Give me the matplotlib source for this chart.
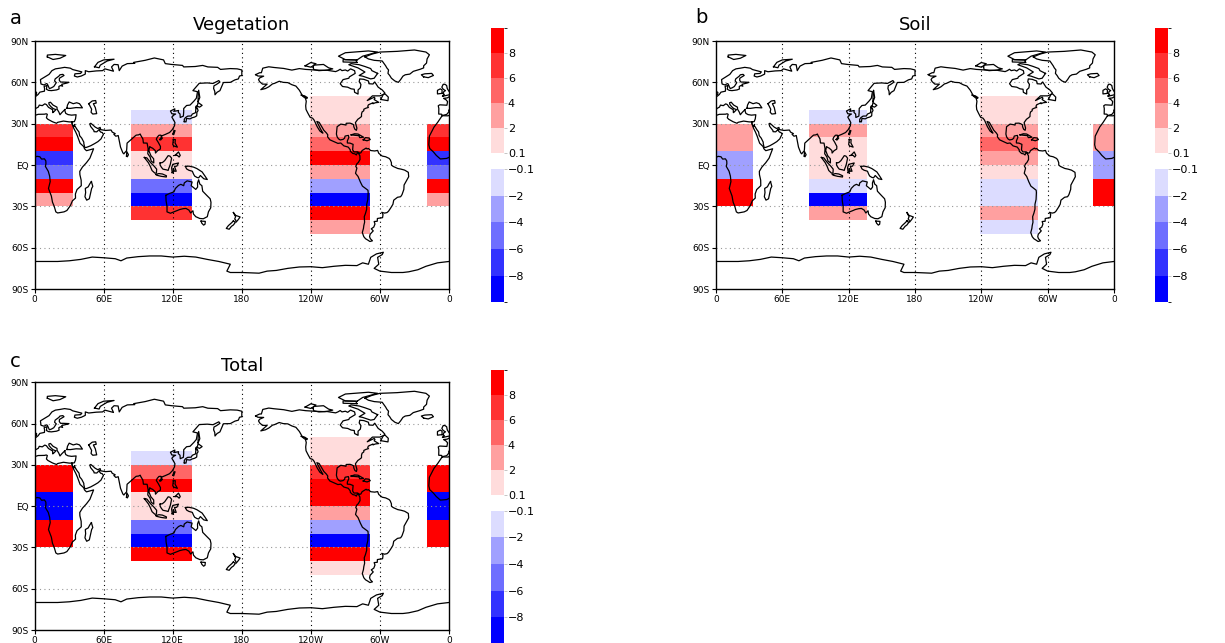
import matplotlib
matplotlib.use("Agg")
import matplotlib.pyplot as plt
import numpy as np
from matplotlib.colors import ListedColormap, BoundaryNorm
from matplotlib.colorbar import ColorbarBase

# ---------------------------------------------------------------------------
# Data: band values per region (10 degree latitude bands, north -> south)
# ---------------------------------------------------------------------------
PANELS = ["Vegetation", "Soil", "Total"]
LETTERS = ["a", "b", "c"]

AFR_LON = (-19.0, 33.5)
ASIA_LON = (84.0, 136.5)
AMER_LON = (-121.0, -68.5)

AFR_LAT = [30, 20, 10, 0, -10, -20, -30]
ASIA_LAT = [40, 30, 20, 10, 0, -10, -20, -30, -40]
AMER_LAT = [50, 40, 30, 20, 10, 0, -10, -20, -30, -40, -50]

veg_afr = [7, 9, -7, -5, 9, 3]
veg_asia = [-1, 3, 7, 1, 1, -5, -9, 7]
veg_amer = [1, 1, 3, 5, 9, 3, -3, -9, 9, 3]

soil_afr = [3, 3, -3, -3, 9, 9]
soil_asia = [-1, 3, 1, 1, 1, -1, -9, 3]
soil_amer = [1, 1, 3, 5, 3, 1, -1, -1, 3, -1]

tot_afr = [9, 9, -9, -9, 9, 9]
tot_asia = [-1, 5, 9, 1, 1, -5, -9, 9]
tot_amer = [1, 1, 7, 9, 9, 3, -3, -9, 9, 1]

LEVELS = [-10, -8, -6, -4, -2, -0.1, 0.1, 2, 4, 6, 8, 10]
COLORS = ["#0000ff", "#3232ff", "#6e6eff", "#a0a0ff", "#dcdcff", "#ffffff",
          "#ffdcdc", "#ffa0a0", "#ff6666", "#ff3232", "#ff0000"]

XTICKS = [0, 60, 120, 180, 240, 300, 360]
XLABELS = ["0", "60E", "120E", "180", "120W", "60W", "0"]
YTICKS = [-90, -60, -30, 0, 30, 60, 90]
YLABELS = ["90S", "60S", "30S", "EQ", "30N", "60N", "90N"]

# ---------------------------------------------------------------------------
# Coarse coastlines (lon, lat), lon in -180..180
# ---------------------------------------------------------------------------
africa = [(-5.9, 35.8), (-9.8, 31), (-13, 27.5), (-17, 21), (-17.5, 14.7), (-16.7, 12),
          (-13.5, 9.5), (-11, 7), (-7.5, 4.4), (-2, 4.8), (2, 6.3), (4.5, 6), (6, 4.3),
          (8.5, 4.5), (9.7, 3), (9.8, 1), (9.3, -1), (11.8, -4.5), (13, -8), (13.5, -12),
          (12, -17), (14.5, -22.5), (15.5, -27), (17, -30), (18.4, -34), (20, -34.8),
          (25.5, -34), (28, -33), (31, -29.5), (32.8, -26), (35.5, -24), (35.4, -21),
          (36.8, -17.8), (40.5, -15), (40.4, -11), (39.3, -7), (39.2, -4.6), (41.5, -1.5),
          (45, 1.7), (48, 5), (51.2, 11.8), (49, 11.3), (45, 10.4), (43.3, 11.8),
          (42.6, 13.4), (39.5, 15.8), (38.5, 18), (37.2, 21), (35.7, 23.9), (34, 26.6),
          (32.5, 29.9), (32.3, 31.3), (30, 31.3), (25, 31.9), (20, 31), (19, 30.3),
          (15.5, 31.4), (11.5, 33.2), (10.2, 34.3), (11, 36.8), (10, 37.2), (8.6, 36.9),
          (3, 36.8), (-1, 35.7), (-5.9, 35.8)]
madagascar = [(49.3, -12), (50.5, -15.5), (49.5, -17), (47.5, -24.5), (45.2, -25.5),
              (43.7, -23), (44.3, -20), (44, -17), (46.5, -15.8), (48, -13.5), (49.3, -12)]
eurasia = [(32.3, 31.3), (34.5, 31.5), (35.5, 33.5), (36, 36.5), (32, 36.2), (29, 36.6),
           (27, 37.5), (26.2, 39.5), (26.5, 40.5), (23.5, 38), (22, 36.5), (21, 38.5),
           (19.5, 40.5), (19.4, 42), (16, 43.5), (13.7, 45.6), (12.3, 45.2), (12.5, 44),
           (14, 42.5), (16, 41), (18.5, 40.2), (16.5, 38.5), (15.7, 38), (15.6, 40.1),
           (12, 41.9), (10.2, 43.9), (8.8, 44.4), (6.6, 43.1), (4, 43.5), (3.2, 42.1),
           (0.8, 41), (-0.3, 39.5), (0, 38.7), (-2, 36.7), (-5.6, 36), (-6.5, 36.9),
           (-8.9, 37), (-8.8, 41), (-9.3, 43), (-8, 43.7), (-1.8, 43.4), (-1.2, 46),
           (-2.5, 47.3), (-4.7, 48.4), (-1.5, 48.7), (1.5, 50.2), (3, 51.2), (4.5, 52.9),
           (8.5, 53.6), (8.6, 55.5), (8.2, 57), (10.5, 57.7), (10.5, 56.5), (10.2, 55),
           (12, 54.2), (14.5, 54), (19, 54.5), (21.2, 55.2), (21, 57), (22.5, 57.7),
           (24.3, 57.2), (23.5, 58.6), (28, 59.5), (29.8, 60), (25, 60.2), (22.5, 60.2),
           (21.4, 61.5), (21.5, 63), (25.5, 65), (24.5, 65.8), (22, 65.5), (21, 64.5),
           (17.8, 62.5), (17.3, 61), (18.8, 59.8), (16.6, 57), (14.5, 56), (12.8, 55.5),
           (11, 58.8), (10.2, 59.1), (8.2, 58.1), (5.5, 58.8), (5, 62), (8, 63.5),
           (12.5, 65.8), (15, 68.5), (18, 69.8), (22, 70.3), (26, 70.9), (31, 70.3),
           (33, 69.3), (41, 67.6), (39.9, 66.5), (35, 66.2), (34.5, 64.6), (37, 63.9),
           (40.5, 64.6), (44, 66), (44, 68.5), (47, 67.7), (53.5, 68.3), (59, 68.5),
           (61, 69.8), (68.5, 68.1), (66.8, 71.2), (69, 73), (72.5, 72.8), (73.5, 68.5),
           (76, 71.8), (80.5, 73.6), (87, 73.8), (86, 74.5), (96, 76), (104, 77.7),
           (112, 76.3), (113.5, 73.6), (119, 73), (128.5, 72.3), (129.5, 71.2),
           (139.5, 71.5), (146, 72.3), (150.5, 71.2), (159, 70.9), (161.5, 69.4),
           (170, 70), (176, 69.8), (180, 69), (180, 65), (178, 64.6), (177, 62.5),
           (174, 61.8), (170, 60), (164, 59.9), (163, 58), (162, 56.2), (161, 54),
           (158.5, 52.8), (156.7, 51), (156.5, 53.5), (155.5, 55.5), (155.8, 57.5),
           (158, 58.5), (161, 60.2), (160, 61.3), (155, 59.2), (150, 59.6), (143, 59.3),
           (137.5, 54), (141.5, 53.2), (140.5, 48.5), (138.5, 46.5), (135, 43.5),
           (132, 43.2), (129.5, 41), (129.5, 38.5), (129.2, 35.5), (126.5, 34.5),
           (126.3, 37), (124.8, 38.2), (125, 39.6), (121.5, 39), (121.8, 40.8), (118, 39.2),
           (119.2, 37.2), (122.5, 37), (120.5, 36.1), (119.2, 34.8), (120.9, 32.4),
           (121.9, 30.8), (121.5, 28.5), (119.6, 25.7), (117.2, 23.6), (113.5, 22.2),
           (110.5, 21.2), (110.2, 20.2), (109.6, 21.7), (108, 21.6), (106.5, 20.2),
           (105.7, 18.7), (107.3, 16.6), (109.3, 13.5), (109.2, 11.6), (106.8, 10.4),
           (105, 8.7), (104.8, 10.5), (102.5, 12.2), (100.9, 12.8), (100, 13.4),
           (99.2, 10.5), (100.3, 8.3), (101, 6.8), (103.4, 4.5), (103.5, 1.5), (101.3, 2.8),
           (100.3, 5.8), (98.3, 8.2), (98.6, 11.9), (97.7, 15.9), (94.5, 16), (94, 19),
           (92.3, 21.4), (91.7, 22.5), (90.3, 21.9), (88.2, 21.7), (86.9, 20.8),
           (84.8, 19.2), (80.3, 15.9), (80, 11.5), (79.8, 10.3), (78.2, 8.9), (77.5, 8.1),
           (76.6, 8.9), (74.6, 13), (73, 19.5), (72.6, 21.4), (70.5, 20.9), (68.8, 22.3),
           (70, 22.8), (67.4, 23.9), (66.4, 25.4), (61.5, 25.1), (57.4, 25.7),
           (56.9, 27.3), (54.8, 26.5), (52.5, 27.6), (50.8, 28.9), (48.8, 30.3),
           (47.9, 29.9), (48.6, 28), (50.2, 26.3), (51.5, 25), (51.6, 24.2), (54, 24.1),
           (56.3, 26), (56.4, 24.9), (57.4, 23.9), (58.7, 23.6), (59.8, 22.3), (58.5, 20.4),
           (57.7, 19), (55, 17), (52.2, 15.6), (48.7, 14), (45, 12.8), (43.5, 12.7),
           (42.7, 15.7), (42.7, 16.6), (40.9, 19.5), (39.1, 21.3), (38.5, 24), (37, 25.6),
           (35.2, 28), (34.6, 28.1), (34.9, 29.5), (34, 27.8), (33.5, 28.4), (32.6, 29.9),
           (32.3, 31.3)]
black_sea = [(28, 41.2), (28.5, 43.5), (30, 45.8), (33.5, 44.5), (36.5, 45.2), (39, 44.5),
             (41.5, 41.5), (36, 41.7), (31, 41.1), (28, 41.2)]
caspian = [(47, 44.5), (50, 46.5), (53, 46.8), (53.5, 45), (51, 44.5), (52.7, 41.7),
           (53.9, 37.3), (50.5, 37), (49, 38.3), (49.5, 40.5), (47, 44.5)]
britain = [(-5, 50), (1.5, 51.2), (1.7, 52.7), (0, 53.5), (-1.5, 55.5), (-2, 57.7),
           (-3.5, 58.6), (-5, 58.6), (-6.2, 56.5), (-5, 55), (-3, 54), (-4.5, 53.3),
           (-5, 51.6), (-4, 51.3), (-5.7, 50), (-5, 50)]
ireland = [(-6, 52), (-6, 54.5), (-7.5, 55.3), (-10, 54.2), (-10, 51.6), (-6, 52)]
iceland = [(-22, 64), (-24, 65.5), (-21, 66.2), (-15, 66.5), (-13.5, 65), (-18, 63.4), (-22, 64)]
srilanka = [(79.8, 6.5), (80, 9.8), (81.5, 7.5), (80.5, 6), (79.8, 6.5)]
honshu = [(130, 31.5), (131.5, 31.3), (132, 33.8), (135, 33.5), (136.8, 34.3), (139, 34.8),
          (140.8, 35.7), (141, 38.3), (142, 39.5), (141.3, 41.4), (140, 40.5), (139.8, 38),
          (137, 37), (136, 35.6), (133, 35.5), (131, 34.4), (130, 33.2), (130, 31.5)]
hokkaido = [(140, 41.5), (141.5, 42.6), (143.3, 42), (145.5, 43.3), (142, 45.4),
            (141.5, 43.5), (140, 42.5), (140, 41.5)]
sakhalin = [(142, 46), (143.5, 49), (142.5, 54.3), (142, 51), (142, 46)]
taiwan = [(120.2, 22.5), (121, 25), (122, 25), (120.8, 22), (120.2, 22.5)]
hainan = [(108.7, 18.5), (110, 20), (111, 19.6), (109.5, 18.2), (108.7, 18.5)]
luzon = [(120.5, 18.5), (122.2, 18.5), (122, 16), (124, 13), (121, 13.8), (120, 14.8), (120.5, 18.5)]
mindanao = [(122, 7), (125, 9.5), (126.5, 7), (125.5, 5.8), (124, 7), (122, 7)]
borneo = [(109, 1.5), (111, 1.8), (113, 3.2), (116, 6.8), (117.5, 6.5), (119, 5), (118, 1),
          (117.5, -0.5), (116.5, -2.5), (116, -3.9), (114.5, -3.5), (111.5, -3),
          (110.2, -1.7), (109, 0), (109, 1.5)]
sumatra = [(95.3, 5.5), (97.5, 5.2), (100.5, 2), (104, -1), (106, -3), (105.8, -5.8),
           (104.5, -5.9), (102, -4), (100.5, -1), (98.8, 1.7), (95.3, 5.5)]
java = [(105.3, -6.8), (108, -6.2), (111, -6.5), (114.5, -7.8), (114.4, -8.7), (110, -8.2),
        (106, -7.4), (105.3, -6.8)]
sulawesi = [(119.5, -5.5), (120.5, -5.5), (120.5, -2.5), (121.5, -4.5), (123, -4.5),
            (121.5, -1), (123.5, -0.8), (125, 1.5), (120, 0.5), (119, -2), (119.5, -5.5)]
new_guinea = [(131, -1), (134, -0.8), (138, -1.5), (141, -2.6), (145.5, -5), (148, -8),
              (150, -10.5), (147, -10), (144, -7.6), (142.5, -9.3), (141, -9), (139, -8),
              (138, -6.5), (137, -4.5), (134, -3.8), (132, -2.8), (131, -1)]
australia = [(114, -22), (114.2, -26), (115, -30), (115, -34), (118, -35), (121.5, -33.8),
             (124, -33), (126, -32.3), (129, -31.7), (131.5, -31.5), (134, -32.7),
             (135.5, -34.8), (137.5, -33.2), (138, -35.6), (140, -37.5), (143.5, -38.8),
             (146.5, -39), (150, -37.5), (151, -34), (153, -31), (153.2, -27), (152.5, -24.5),
             (149.5, -22), (146, -19), (145.3, -15), (143.5, -13.8), (142.5, -10.7),
             (141.5, -13), (141.6, -16), (140, -17.7), (137.5, -16), (136, -15),
             (136.8, -12.3), (132.5, -11.5), (130, -13), (129.5, -15), (127, -14),
             (125, -14.8), (122.3, -17), (121, -19.5), (117, -20.7), (114, -22)]
tasmania = [(144.6, -40.7), (148.3, -40.9), (148, -43), (146.8, -43.6), (145.2, -42.2), (144.6, -40.7)]
nz_north = [(172.7, -34.5), (174.5, -36.5), (178.5, -37.7), (177, -39.5), (175, -41.5),
            (174.6, -39.8), (173.8, -39.2), (174.6, -37.5), (172.7, -34.5)]
nz_south = [(172.7, -40.5), (174.3, -41.7), (172.7, -43.5), (171, -44.5), (169, -46.6),
            (166.5, -46), (168.3, -44), (171.4, -41.7), (172.7, -40.5)]
americas = [(-168, 65.6), (-164.5, 67), (-163, 67), (-161.8, 70.3), (-156.6, 71.3),
            (-152, 70.8), (-143.6, 70.1), (-136.5, 68.9), (-130, 70), (-124.5, 69.4),
            (-115, 68.9), (-108, 68.7), (-106, 68.8), (-98.5, 67.8), (-96.5, 68.5),
            (-94.5, 69.5), (-93, 68.5), (-90, 69), (-88, 68.2), (-85.5, 69.8), (-82, 68.5),
            (-81.5, 66.5), (-86.5, 64), (-87, 63), (-92, 62), (-94.5, 59), (-92.5, 57),
            (-88, 56.5), (-85, 55.3), (-82.3, 55), (-82, 52.8), (-79, 51.5), (-79, 54.5),
            (-77, 56), (-76.5, 58.5), (-78, 60.5), (-77.5, 62.5), (-74, 62.2), (-70, 61),
            (-69.5, 59), (-66, 58.8), (-64.5, 60.3), (-61.5, 56.5), (-58, 54.5),
            (-55.7, 52.3), (-56.5, 51.4), (-60, 50.2), (-66.5, 50.2), (-71, 46.8),
            (-65, 49.2), (-64.3, 48.5), (-65, 47.5), (-61, 45.5), (-64, 45.2), (-66, 44.5),
            (-66, 45.2), (-70, 43.7), (-70.6, 42.6), (-70, 41.8), (-72, 41.3), (-74, 40.5),
            (-74, 39.4), (-75.5, 38.5), (-76, 37), (-76, 35.2), (-77.8, 34), (-79.2, 33.2),
            (-81.3, 30.8), (-80, 26.8), (-80.4, 25.2), (-81.7, 25.9), (-82.7, 27.8),
            (-82.8, 29.2), (-84.5, 30), (-86, 30.4), (-89.3, 30.3), (-89.5, 29), (-91, 29.3),
            (-94, 29.7), (-97.2, 27.8), (-97.5, 25.5), (-97.8, 22.5), (-97.2, 20.5),
            (-96, 19), (-94.5, 18.2), (-92, 18.6), (-90.7, 19.5), (-90.3, 21), (-87.4, 21.5),
            (-87, 20), (-88.3, 17.5), (-88.3, 16), (-86, 15.9), (-83.3, 15), (-83.5, 12.5),
            (-83.7, 11), (-82.5, 9.5), (-79.5, 9.6), (-77.5, 8.6), (-76.5, 8.9),
            (-75.5, 10.5), (-74.2, 11.2), (-72, 12.3), (-71.2, 11.7), (-70, 12), (-68, 10.5),
            (-64.5, 10.2), (-62, 10.6), (-61, 8.5), (-59.5, 7.5), (-58, 6.5), (-55, 6),
            (-52, 4.8), (-51, 3.8), (-50, 1.7), (-50, 0), (-48.5, -1), (-44.5, -2.5),
            (-41.5, -3), (-38.5, -3.7), (-35.3, -5.3), (-35, -8.5), (-37, -11.5),
            (-39, -14.5), (-39.2, -17.7), (-40.8, -21.5), (-42, -23), (-44.7, -23.4),
            (-48, -25.5), (-48.7, -28.5), (-50.5, -31), (-52.5, -33.5), (-53.8, -34.5),
            (-56, -34.9), (-58.4, -34.3), (-57.3, -36), (-57.7, -38.2), (-62.2, -38.8),
            (-62.3, -40.8), (-65, -41), (-64.3, -42.8), (-65.3, -45), (-67.5, -46.3),
            (-65.8, -47.8), (-68.5, -50.2), (-69, -52), (-68.3, -53.5), (-66.5, -55),
            (-68.7, -55.5), (-70.5, -54.5), (-72.5, -53.5), (-74, -52), (-75.3, -49),
            (-74.3, -46), (-74, -44), (-73.3, -41.5), (-73.6, -37.5), (-72.5, -35),
            (-71.5, -32), (-71.5, -28.5), (-70.5, -25), (-70.2, -20), (-70.4, -18.3),
            (-75.2, -15.3), (-77, -12.3), (-79, -8.3), (-81.2, -6), (-80.4, -3.4),
            (-80, -2.2), (-81, -1), (-80, 0.9), (-78.8, 1.8), (-77.3, 4), (-77.4, 6.7),
            (-78.5, 8.3), (-79.5, 9), (-80.5, 7.3), (-81.7, 8.1), (-83.6, 8.4), (-85.7, 10),
            (-85.8, 11.1), (-87.5, 13), (-91.3, 13.9), (-94, 16), (-96.5, 15.7),
            (-99.5, 16.8), (-103.5, 18.3), (-105.5, 20.5), (-105.3, 21.9), (-106.5, 23.3),
            (-108.7, 25.2), (-110.5, 27.8), (-112.8, 31), (-114.8, 31.6), (-113, 28.6),
            (-111.5, 26), (-109.5, 23.2), (-110.3, 23.5), (-112.2, 24.7), (-114.5, 27.8),
            (-117.1, 32.5), (-118.5, 34), (-120.6, 34.6), (-122.5, 37.5), (-124.2, 40.3),
            (-124.5, 43), (-124, 46.3), (-124.7, 48.4), (-123, 49), (-127.5, 50.6),
            (-130, 54.3), (-133, 57.3), (-136.5, 58.3), (-140, 59.8), (-144, 60),
            (-147.5, 60.8), (-151.8, 59.2), (-153.3, 58.9), (-156.5, 56.8), (-159.5, 55.5),
            (-163.5, 54.7), (-161, 56.5), (-158, 58.7), (-162, 58.7), (-164.5, 60.5),
            (-165.5, 62), (-164.5, 63.2), (-161, 64.5), (-166, 64.6), (-168, 65.6)]
greenland = [(-73, 78.5), (-67, 80.5), (-60, 82), (-45, 82.5), (-30, 83.5), (-20, 82),
             (-17, 80), (-19, 77), (-19.5, 74), (-22, 72), (-22, 70.5), (-25, 69.5),
             (-31, 68), (-34, 66), (-38, 65.5), (-40, 64.5), (-42, 62), (-44, 60), (-47, 61),
             (-50, 63), (-51.5, 65), (-53, 66.5), (-52.5, 69), (-54, 70.5), (-55, 72),
             (-58, 75.5), (-65, 76), (-70, 77), (-73, 78.5)]
baffin = [(-62, 66.5), (-65, 63), (-68, 62.5), (-71.5, 63.5), (-75, 64.5), (-78, 65),
          (-73, 67.5), (-79, 70.5), (-87, 72.8), (-85, 73.6), (-78, 72.8), (-73, 71.5),
          (-68, 70), (-67, 68.5), (-62, 66.5)]
victoria = [(-118, 71), (-117.5, 72.5), (-109, 73), (-104.5, 70.5), (-101, 69.8),
            (-106, 68.9), (-113, 68.5), (-117.5, 69.3), (-118, 71)]
ellesmere = [(-80, 76.2), (-90, 76.5), (-96, 79), (-90, 81.5), (-70, 82.8), (-62, 82),
             (-75, 79), (-80, 76.2)]
banks = [(-125, 72), (-120, 74.4), (-115.5, 73.5), (-120, 71), (-125, 72)]
devon = [(-80, 74.5), (-92, 74.8), (-92, 76.5), (-81, 76.3), (-80, 74.5)]
newfoundland = [(-59.3, 47.6), (-53, 46.7), (-52.7, 49.3), (-55.5, 51.6), (-57, 51.3), (-59.3, 47.6)]
cuba = [(-85, 21.9), (-82, 22.7), (-79, 22.5), (-74.2, 20.2), (-77.5, 19.9), (-78.3, 21.3),
        (-82, 21.6), (-85, 21.9)]
hispaniola = [(-74.5, 18.3), (-72.5, 19.9), (-69.5, 19.6), (-68.4, 18.5), (-71.2, 17.6), (-74.5, 18.3)]
vancouver = [(-128.3, 50.8), (-125, 50), (-123.3, 48.4), (-125.5, 48.9), (-128.3, 50.8)]
svalbard = [(11, 78.5), (16, 76.6), (22, 77.5), (27, 79.5), (18, 80.3), (11, 79.8), (11, 78.5)]
novaya = [(52, 71.3), (56, 70.6), (57, 72.5), (63, 75.5), (69, 76.8), (60, 76.3), (55, 74.5), (52, 71.3)]
antarctica = [(-180, -78), (-165, -78.5), (-158, -77), (-150, -76.5), (-140, -75),
              (-130, -74), (-120, -73.8), (-110, -74.5), (-100, -73.5), (-90, -72.8),
              (-80, -73), (-75, -71), (-70, -72), (-68, -67), (-63, -64.5), (-57, -63.3),
              (-58, -65), (-62, -67), (-61, -72), (-65, -75), (-60, -77), (-50, -78),
              (-40, -78), (-35, -77.5), (-27, -76), (-20, -73.5), (-10, -71), (0, -70),
              (10, -70), (20, -70), (30, -69.5), (40, -68.5), (50, -66.8), (60, -67.3),
              (70, -68), (75, -69.5), (80, -67.5), (90, -66.5), (100, -66), (110, -66),
              (120, -66.8), (130, -66.2), (140, -66.8), (150, -68.5), (160, -70),
              (165, -71), (170, -72), (167, -77), (170, -78), (180, -78)]

COASTS = [africa, madagascar, eurasia, black_sea, caspian, britain, ireland, iceland,
          srilanka, honshu, hokkaido, sakhalin, taiwan, hainan, luzon, mindanao, borneo,
          sumatra, java, sulawesi, new_guinea, australia, tasmania, nz_north, nz_south,
          americas, greenland, baffin, victoria, ellesmere, banks, devon, newfoundland,
          cuba, hispaniola, vancouver, svalbard, novaya, antarctica]

# ---------------------------------------------------------------------------
# Plot
# ---------------------------------------------------------------------------
W, H = 1225, 643
cmap = ListedColormap(COLORS)
norm = BoundaryNorm(LEVELS, cmap.N)

fig = plt.figure(figsize=(W / 100, H / 100), dpi=100)

map_rects = [[0.0283, 0.5505, 0.3382, 0.3857],
             [0.5845, 0.5505, 0.3249, 0.3857],
             [0.0283, 0.0202, 0.3382, 0.3852]]
cbar_x = [0.4008, 0.9429, 0.4008]
cbar_top = [0.9560, 0.9560, 0.4246]
letter_xy = [(10, 24), (695, 23), (10, 367)]   # pixel positions of panel letters

panel_data = [(veg_afr, veg_asia, veg_amer),
              (soil_afr, soil_asia, soil_amer),
              (tot_afr, tot_asia, tot_amer)]

regions = [(AFR_LON, AFR_LAT), (ASIA_LON, ASIA_LAT), (AMER_LON, AMER_LAT)]

for k, title in enumerate(PANELS):
    ax = fig.add_axes(map_rects[k])

    for (lon, lats), vals in zip(regions, panel_data[k]):
        c = np.array(vals, dtype=float).reshape(-1, 1)
        for shift in (0, 360):
            ax.pcolormesh([lon[0] + shift, lon[1] + shift], lats, c,
                          cmap=cmap, norm=norm, zorder=1)

    for poly in COASTS:
        xs = np.array([p[0] for p in poly])
        ys = np.array([p[1] for p in poly])
        for shift in (0, 360):
            ax.plot(xs + shift, ys, color="black", lw=0.9, zorder=3)

    for x in XTICKS[1:-1]:
        ax.axvline(x, color="black", lw=0.8, ls=(0, (1, 3)), zorder=2)
    for y in YTICKS[1:-1]:
        ax.axhline(y, color="#999999", lw=0.8, ls=(0, (1, 3)), zorder=2)

    ax.set_xlim(0, 360)
    ax.set_ylim(-90, 90)
    ax.set_xticks(XTICKS)
    ax.set_xticklabels(XLABELS)
    ax.set_yticks(YTICKS)
    ax.set_yticklabels(YLABELS)
    ax.tick_params(length=3, width=0.8, labelsize=6.5, pad=1.5)
    for sp in ax.spines.values():
        sp.set_linewidth(1.0)

    ax.set_title(title, fontsize=13, pad=8)
    lx, ly = letter_xy[k]
    fig.text(lx / W, 1 - ly / H, LETTERS[k], fontsize=14, ha="left", va="baseline")

    # colorbars: positive and negative halves
    top = cbar_top[k]
    seg = 25.0 / H
    pos_ax = fig.add_axes([cbar_x[k], top - 5 * seg, 0.0104, 5 * seg])
    neg_top = top - 5 * seg - 15.6 / H
    neg_h = 133.4 / H
    neg_ax = fig.add_axes([cbar_x[k], neg_top - neg_h, 0.0104, neg_h])

    pos_levels = LEVELS[6:]
    neg_levels = LEVELS[:6]
    cb1 = ColorbarBase(pos_ax, cmap=ListedColormap(COLORS[6:]),
                       norm=BoundaryNorm(pos_levels, 5), boundaries=pos_levels,
                       spacing="uniform", ticks=[0.1, 2, 4, 6, 8])
    cb1.set_ticklabels(["0.1", "2", "4", "6", "8"])
    cb2 = ColorbarBase(neg_ax, cmap=ListedColormap(COLORS[:5]),
                       norm=BoundaryNorm(neg_levels, 5), boundaries=neg_levels,
                       spacing="uniform", ticks=[-8, -6, -4, -2, -0.1])
    cb2.set_ticklabels(["\u22128", "\u22126", "\u22124", "\u22122", "\u22120.1"])
    for cb in (cb1, cb2):
        cb.outline.set_visible(False)
        cb.ax.tick_params(length=2, width=0.6, color="#bbbbbb", labelsize=8, pad=1)

fig.savefig("out.png", dpi=100)
